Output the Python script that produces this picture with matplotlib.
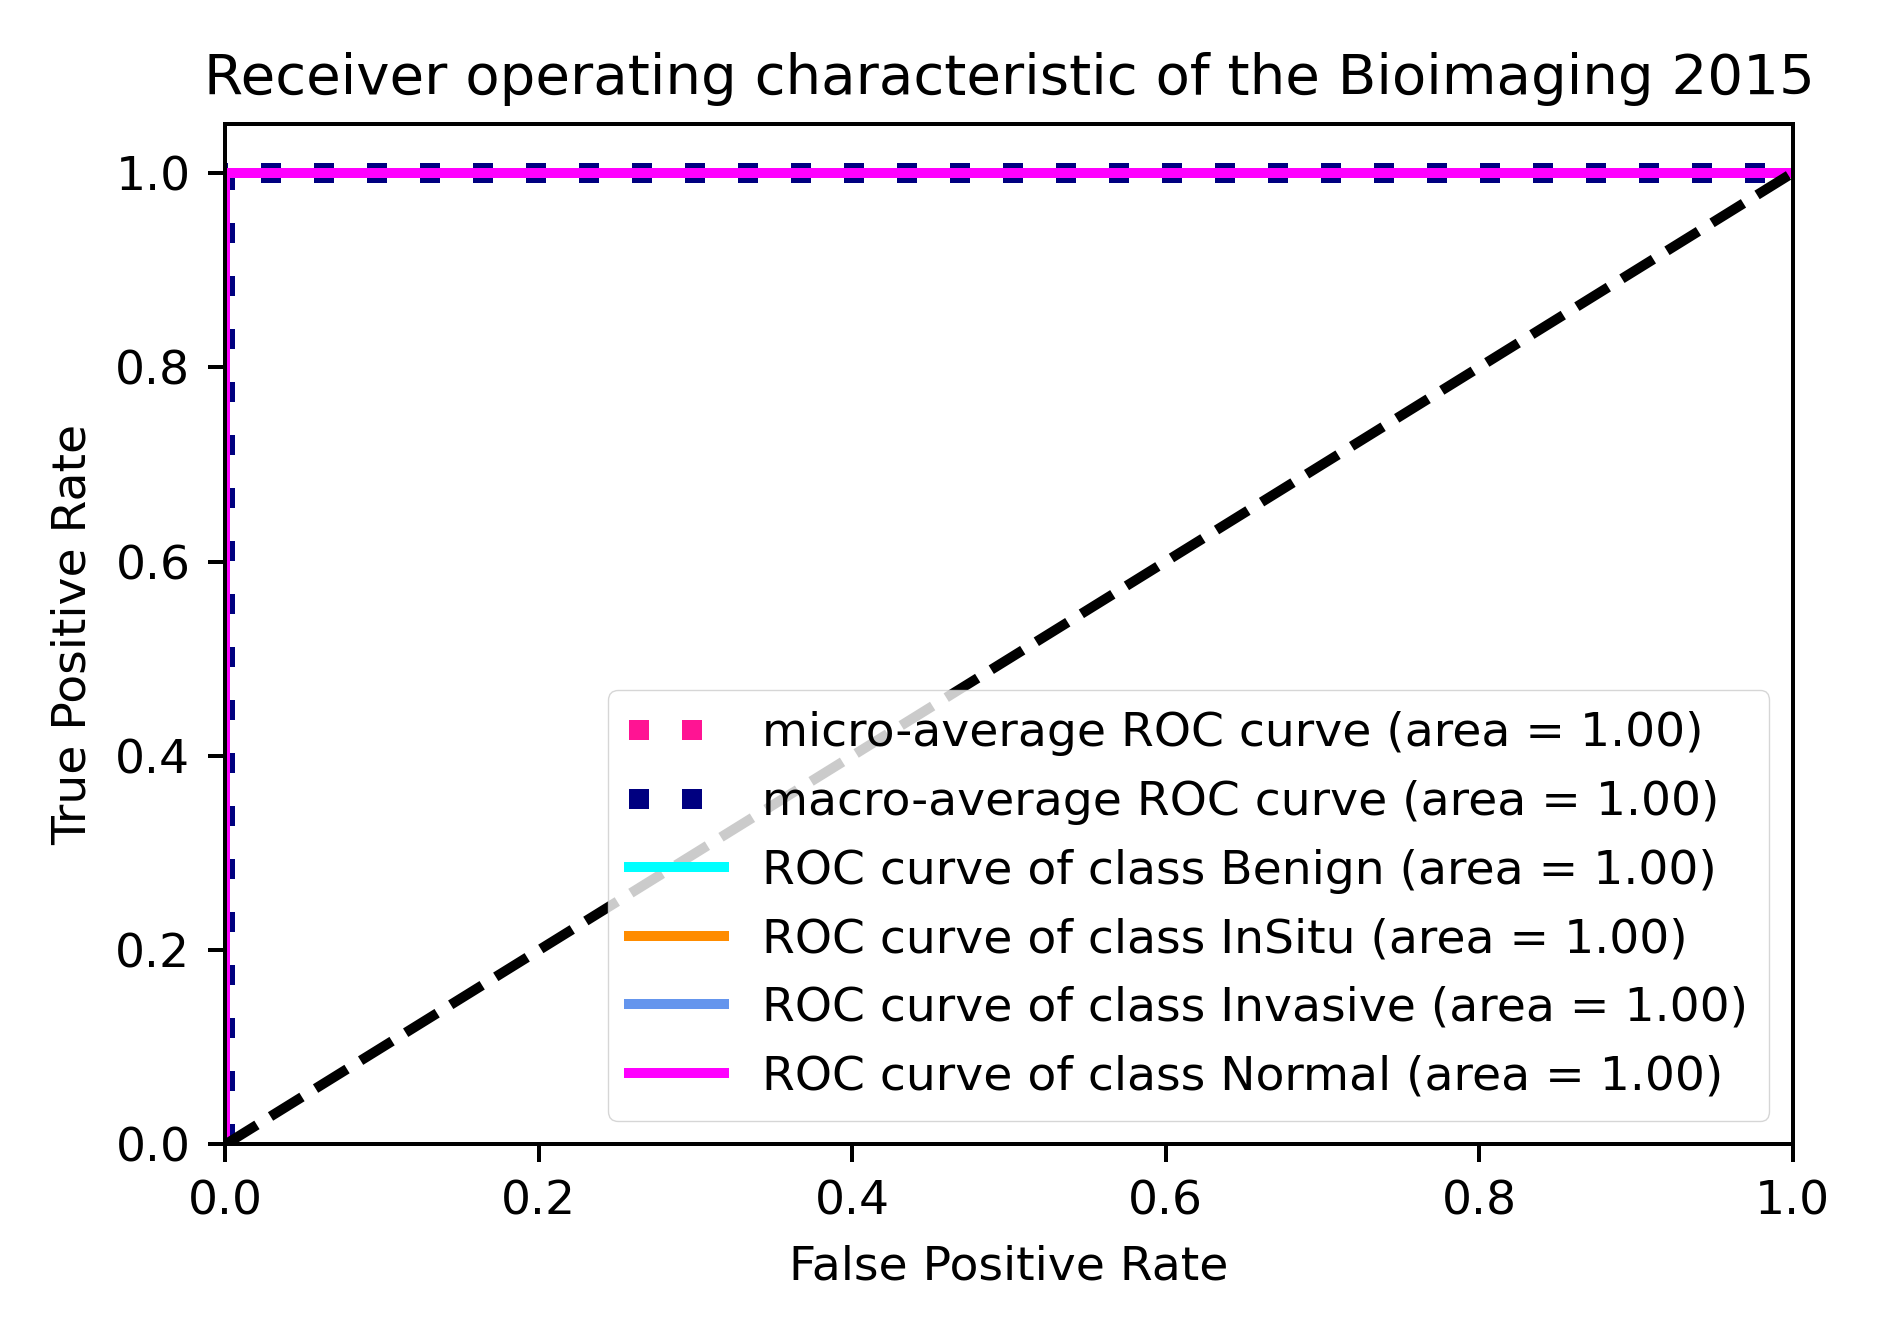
import matplotlib
matplotlib.use("Agg")
import matplotlib.pyplot as plt
import numpy as np

# Data
fpr_micro = [0.0, 0.0, 1.0]
tpr_micro = [0.0, 1.0, 1.0]
fpr_macro = [0.0, 0.0, 1.0]
tpr_macro = [0.0, 1.0, 1.0]
class_names = ["Benign", "InSitu", "Invasive", "Normal"]
class_colors = ["aqua", "darkorange", "cornflowerblue", "magenta"]
class_fpr = [[0.0, 0.0, 1.0], [0.0, 0.0, 1.0], [0.0, 0.0, 1.0], [0.0, 0.0, 1.0]]
class_tpr = [[0.0, 1.0, 1.0], [0.0, 1.0, 1.0], [0.0, 1.0, 1.0], [0.0, 1.0, 1.0]]
micro_auc = 1.00
macro_auc = 1.00
class_auc = [1.00, 1.00, 1.00, 1.00]
diag_x = [0, 1]
diag_y = [0, 1]

s = 3.6
fs = 34
plt.rcParams.update({
    "font.family": "DejaVu Sans",
    "font.size": fs,
    "axes.linewidth": 0.8 * s,
    "xtick.major.width": 0.8 * s,
    "ytick.major.width": 0.8 * s,
    "xtick.major.size": 3.5 * s,
    "ytick.major.size": 3.5 * s,
    "xtick.major.pad": 3.5 * s,
    "ytick.major.pad": 3.5 * s,
    "legend.borderpad": 0.45,
})

fig = plt.figure(figsize=(18.79, 13.23), dpi=100)
ax = fig.add_axes([0.12, 0.135, 0.834, 0.771])

lw = 2 * s
ax.plot(fpr_micro, tpr_micro,
        label="micro-average ROC curve (area = {0:0.2f})".format(micro_auc),
        color="deeppink", linestyle=":", linewidth=4 * s)
ax.plot(fpr_macro, tpr_macro,
        label="macro-average ROC curve (area = {0:0.2f})".format(macro_auc),
        color="navy", linestyle=":", linewidth=4 * s)
for name, col, fx, ty, a in zip(class_names, class_colors, class_fpr, class_tpr, class_auc):
    ax.plot(fx, ty, color=col, lw=lw,
            label="ROC curve of class {0} (area = {1:0.2f})".format(name, a))
ax.plot(diag_x, diag_y, "k--", lw=lw)

ax.set_xlim([0.0, 1.0])
ax.set_ylim([0.0, 1.05])
ax.set_xlabel("False Positive Rate", fontsize=fs, labelpad=4 * s)
ax.set_ylabel("True Positive Rate", fontsize=fs, labelpad=4 * s)
ax.set_title("Receiver operating characteristic of the Bioimaging 2015",
             fontsize=40.5, pad=6 * s)
ax.legend(loc="lower right", fontsize=fs)

fig.savefig("out.png", dpi=100)
